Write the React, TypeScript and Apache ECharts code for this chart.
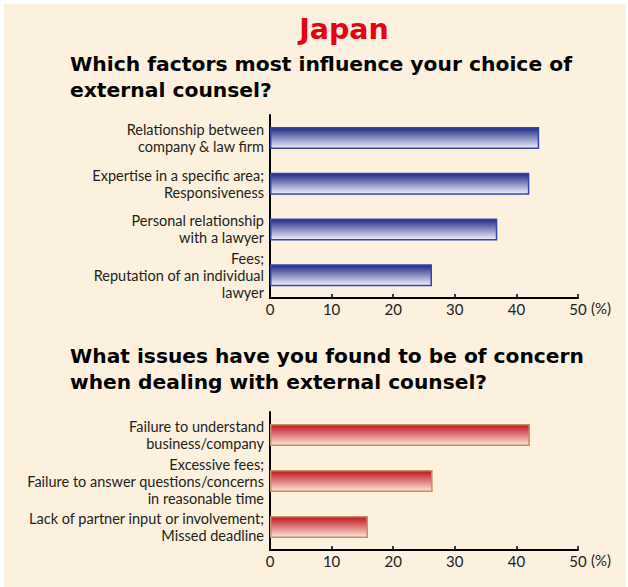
import React, { useEffect, useRef } from "react";
import * as echarts from "echarts";

const mainTitle = "Japan";
const factorTitle = ["Which factors most influence your choice of", "external counsel?"];
const concernTitle = ["What issues have you found to be of concern", "when dealing with external counsel?"];

const factorCategories = [
  "Relationship between\ncompany & law firm",
  "Expertise in a specific area;\nResponsiveness",
  "Personal relationship\nwith a lawyer",
  "Fees;\nReputation of an individual\nlawyer",
];
const factorValues = [43.7, 42.1, 36.9, 26.3];

const concernCategories = [
  "Failure to understand\nbusiness/company",
  "Excessive fees;\nFailure to answer questions/concerns\nin reasonable time",
  "Lack of partner input or involvement;\nMissed deadline",
];
const concernValues = [42.2, 26.4, 15.9];

const axisMin = 0;
const axisMax = 50;
const axisInterval = 10;
const unitLabel = "(%)";

const labelFont = "Lato";
const titleFont = "DejaVu Sans";

export default function App() {
  const ref = useRef<HTMLDivElement>(null);
  useEffect(() => {
    if (!ref.current) return;
    const chart = echarts.init(ref.current, null, { renderer: "svg" });

    const blueGrad = new echarts.graphic.LinearGradient(0, 0, 0, 1, [
      { offset: 0, color: "#1f2785" },
      { offset: 1, color: "#f0f0fa" },
    ]);
    const redGrad = new echarts.graphic.LinearGradient(0, 0, 0, 1, [
      { offset: 0, color: "#c0131d" },
      { offset: 1, color: "#fbe6dc" },
    ]);

    const makeX = (gridIndex: number) => ({
      type: "value",
      gridIndex,
      min: axisMin,
      max: axisMax,
      interval: axisInterval,
      name: unitLabel,
      nameLocation: "end",
      nameGap: 13,
      nameTextStyle: {
        fontFamily: labelFont,
        fontSize: 15,
        color: "#231f20",
        verticalAlign: "top",
        padding: [2, 0, 0, 0],
      },
      axisLine: { show: true, lineStyle: { color: "#000", width: 2 } },
      axisTick: { show: true, inside: true, length: 4, lineStyle: { color: "#000", width: 1.5 } },
      axisLabel: { fontFamily: labelFont, fontSize: 15, color: "#231f20", margin: 3 },
      splitLine: { show: false },
    });
    const makeY = (gridIndex: number, cats: string[]) => ({
      type: "category",
      gridIndex,
      data: cats,
      inverse: true,
      axisLine: { show: true, lineStyle: { color: "#000", width: 2 } },
      axisTick: { show: false },
      axisLabel: {
        fontFamily: labelFont,
        fontSize: 14.5,
        color: "#231f20",
        lineHeight: 17,
        align: "right",
        margin: 6,
      },
    });

    chart.setOption({
      animation: false,
      backgroundColor: "#ffffff",
      graphic: [
        { type: "rect", shape: { x: 4, y: 4, width: 622, height: 583 }, style: { fill: "#fcf0de" }, z: -10 },
        {
          type: "text",
          x: 344,
          y: 29,
          style: { text: mainTitle, fill: "#e60012", fontFamily: titleFont, fontWeight: "bold", fontSize: 28.5, align: "center", verticalAlign: "middle" },
        },
        ...factorTitle.map((t, i) => ({
          type: "text",
          x: 70,
          y: 64 + i * 26,
          style: { text: t, fill: "#000", fontFamily: titleFont, fontWeight: "bold", fontSize: 20.3, align: "left", verticalAlign: "middle" },
        })),
        ...concernTitle.map((t, i) => ({
          type: "text",
          x: 70,
          y: 356 + i * 26,
          style: { text: t, fill: "#000", fontFamily: titleFont, fontWeight: "bold", fontSize: 20.2, align: "left", verticalAlign: "middle" },
        })),
      ],
      grid: [
        { left: 270, top: 115, width: 308, height: 183 },
        { left: 270, top: 412, width: 308, height: 138 },
      ],
      xAxis: [makeX(0), makeX(1)],
      yAxis: [makeY(0, factorCategories), makeY(1, concernCategories)],
      series: [
        {
          type: "bar",
          xAxisIndex: 0,
          yAxisIndex: 0,
          data: factorValues,
          barWidth: 22,
          itemStyle: { color: blueGrad, borderColor: "#3446a6", borderWidth: 1.5 },
        },
        {
          type: "bar",
          xAxisIndex: 1,
          yAxisIndex: 1,
          data: concernValues,
          barWidth: 22,
          itemStyle: { color: redGrad, borderColor: "#c09162", borderWidth: 1.5 },
        },
      ],
    });
    return () => chart.dispose();
  }, []);
  return <div ref={ref} style={{ position: "fixed", left: 0, top: 0, width: 628, height: 587 }} />;
}
